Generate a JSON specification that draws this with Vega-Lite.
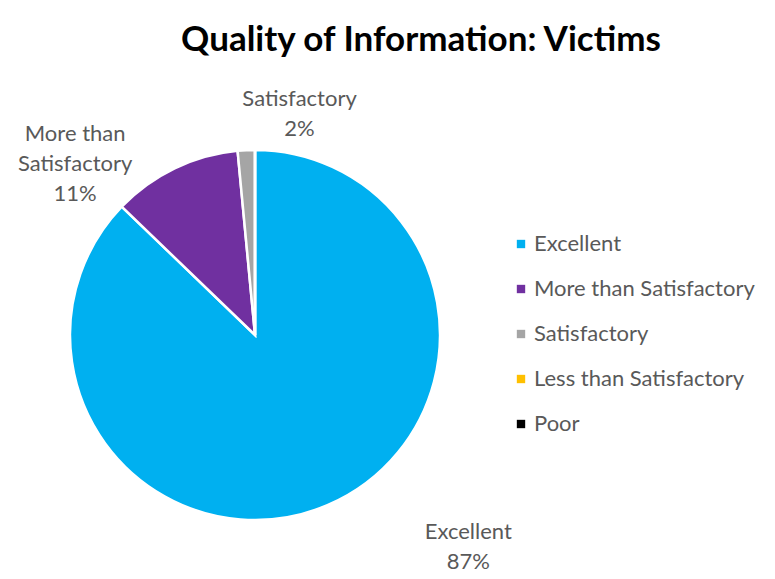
{
  "$schema": "https://vega.github.io/schema/vega-lite/v6.json",
  "width": 370,
  "height": 370,
  "autosize": {"type": "none"},
  "padding": {"left": 70, "top": 150, "right": 335, "bottom": 59},
  "background": "white",
  "config": {"view": {"stroke": null}, "font": "Lato"},
  "title": {
    "text": "Quality of Information: Victims",
    "font": "Lato",
    "fontSize": 35,
    "fontWeight": "bold",
    "color": "#000000",
    "anchor": "middle",
    "frame": "group",
    "dx": 166,
    "offset": -5,
    "baseline": "bottom"
  },
  "data": {
    "values": [
      {"category": "Excellent", "value": 87.2, "ord": 1, "label": "Excellent\n87%"},
      {"category": "More than Satisfactory", "value": 11.3, "ord": 2, "label": "More than\nSatisfactory\n11%"},
      {"category": "Satisfactory", "value": 1.5, "ord": 3, "label": "Satisfactory\n2%"},
      {"category": "Less than Satisfactory", "value": 0, "ord": 4, "label": ""},
      {"category": "Poor", "value": 0, "ord": 5, "label": ""}
    ]
  },
  "encoding": {
    "theta": {"field": "value", "type": "quantitative", "stack": true},
    "order": {"field": "ord", "type": "quantitative"}
  },
  "layer": [
    {
      "mark": {"type": "arc", "stroke": "white", "strokeWidth": 2.5},
      "encoding": {
        "color": {
          "field": "category",
          "type": "nominal",
          "scale": {
            "domain": ["Excellent", "More than Satisfactory", "Satisfactory", "Less than Satisfactory", "Poor"],
            "range": ["#00B0F0", "#7030A0", "#A5A5A5", "#FFC000", "#000000"]
          },
          "legend": {
            "title": null,
            "orient": "none",
            "legendX": 440,
            "legendY": 83,
            "symbolType": "square",
            "symbolSize": 70,
            "symbolStrokeWidth": 0,
            "labelFont": "Lato",
            "labelFontSize": 22,
            "labelColor": "#595959",
            "labelOffset": 2,
            "rowPadding": 23,
            "labelLimit": 400
          }
        }
      }
    },
    {
      "mark": {"type": "text", "radius": 200, "dx": 135, "dy": 13, "fontSize": 22, "font": "Lato", "color": "#595959", "lineBreak": "\n", "lineHeight": 30, "align": "center", "baseline": "middle"},
      "encoding": {
        "text": {"condition": {"test": "datum.category === 'Excellent'", "field": "label"}, "value": ""}
      }
    },
    {
      "mark": {"type": "text", "radius": 200, "dx": -93, "dy": -21, "fontSize": 22, "font": "Lato", "color": "#595959", "lineBreak": "\n", "lineHeight": 30, "align": "center", "baseline": "middle"},
      "encoding": {
        "text": {"condition": {"test": "datum.category === 'More than Satisfactory'", "field": "label"}, "value": ""}
      }
    },
    {
      "mark": {"type": "text", "radius": 222, "dx": 55, "dy": -14, "fontSize": 22, "font": "Lato", "color": "#595959", "lineBreak": "\n", "lineHeight": 30, "align": "center", "baseline": "middle"},
      "encoding": {
        "text": {"condition": {"test": "datum.category === 'Satisfactory'", "field": "label"}, "value": ""}
      }
    }
  ]
}
